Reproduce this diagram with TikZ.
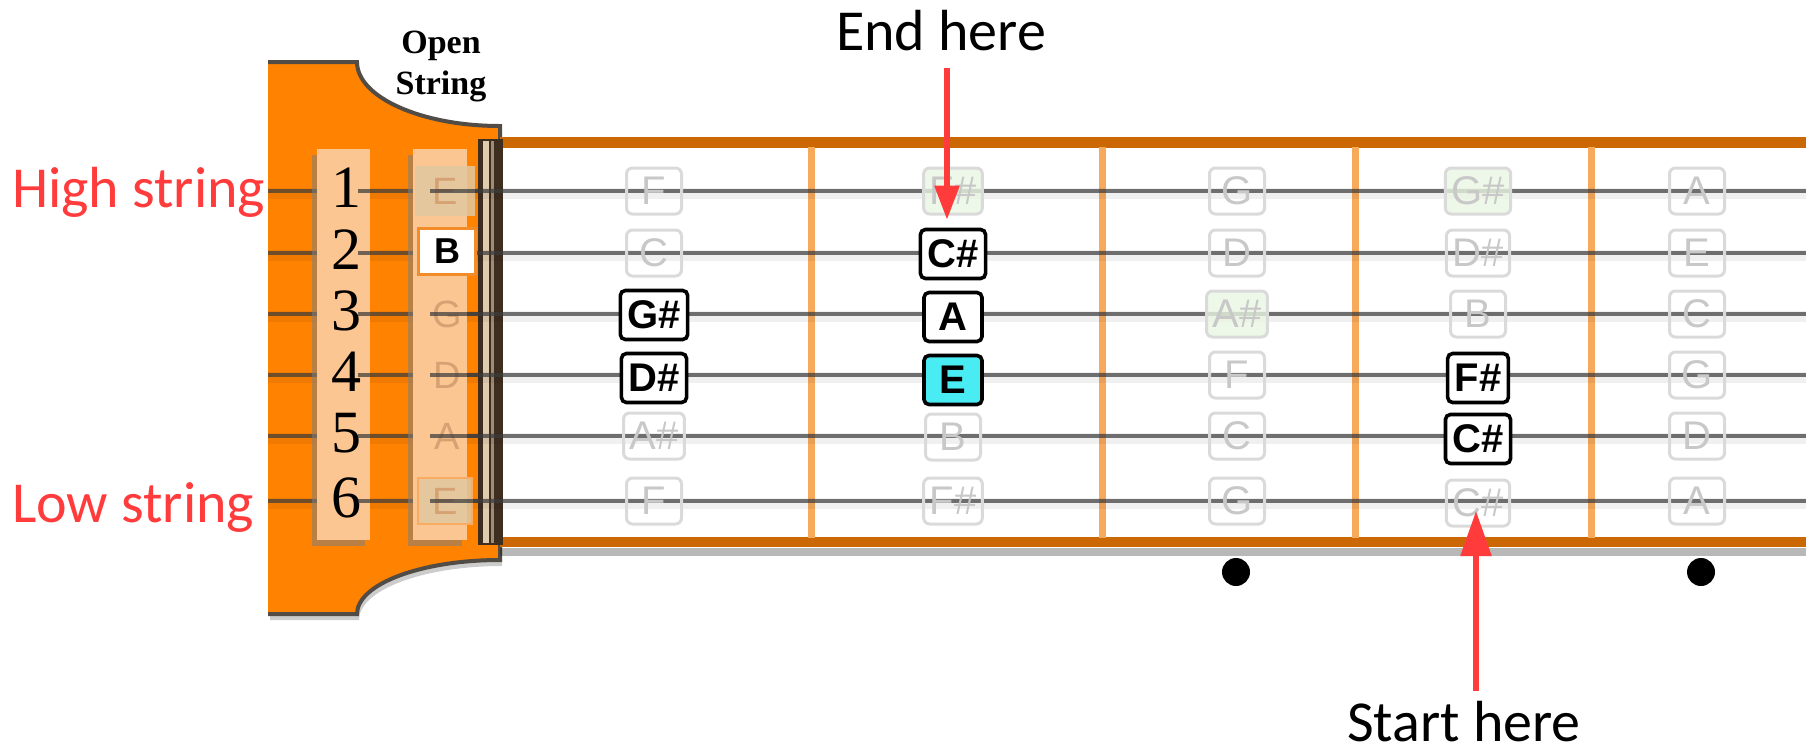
\documentclass[tikz,border=0pt]{standalone}
\usepackage{fontspec}
\usetikzlibrary{shadows,arrows.meta}
\newfontfamily\tagfont{Carlito}
\newfontfamily\notefont{Liberation Sans}
\newfontfamily\numfont{Liberation Serif}

\definecolor{headorange}{RGB}{255,130,0}
\definecolor{barorange}{RGB}{204,104,4}
\definecolor{fretorange}{RGB}{247,170,92}
\definecolor{stripfill}{RGB}{251,198,146}
\definecolor{tagred}{RGB}{255,59,59}
\definecolor{notecyan}{RGB}{72,236,242}
\definecolor{ghostline}{RGB}{218,218,218}
\definecolor{ghosttext}{RGB}{200,200,200}
\definecolor{ghostgreen}{RGB}{234,246,226}
\definecolor{stringgray}{RGB}{60,60,60}
\definecolor{nutdark}{RGB}{62,46,32}
\definecolor{nutlight}{RGB}{226,204,176}
\definecolor{edgegray}{RGB}{82,76,70}
\definecolor{opentan}{RGB}{224,200,160}
\definecolor{openletter}{RGB}{214,162,116}
\definecolor{openedge}{RGB}{242,140,40}

\tikzset{
  stringline/.style={line width=3.6pt, draw=stringgray, draw opacity=0.72},
  stringhalo/.style={line width=11pt, draw=black, draw opacity=0.06},
  fretwire/.style={line width=7pt, draw=fretorange},
  railbar/.style={line width=11pt, draw=barorange},
  strip/.style={fill=stripfill, draw=none,
    drop shadow={shadow xshift=-5pt, shadow yshift=-6pt, opacity=0.55}},
  note/.style={draw=black, line width=3.6pt, rounded corners=5pt, fill=white,
    minimum width=58pt, minimum height=49pt, inner xsep=7pt, inner ysep=0pt,
    font=\notefont\bfseries\fontsize{40}{40}\selectfont},
  ghost/.style={draw=ghostline, line width=3pt, rounded corners=6pt,
    minimum width=55pt, minimum height=46pt, inner xsep=6pt, inner ysep=0pt,
    text=ghosttext, font=\notefont\fontsize{40}{40}\selectfont},
  greenghost/.style={ghost, fill=ghostgreen, fill opacity=0.8, text opacity=1},
  openbox/.style={minimum width=60pt, minimum height=50pt, inner sep=0pt,
    text=openletter, font=\notefont\fontsize{38}{38}\selectfont},
  tag/.style={font=\tagfont\fontsize{58}{58}\selectfont, inner sep=0pt},
  digit/.style={font=\numfont\fontsize{60}{60}\selectfont, inner sep=0pt},
  heading/.style={font=\numfont\bfseries\fontsize{34}{34}\selectfont, inner sep=0pt, anchor=base},
  redarrow/.style={draw=tagred, line width=5.5pt},
  fretdot/.style={circle, fill=black, minimum size=28pt, inner sep=0pt}
}

\begin{document}
\begin{tikzpicture}[x=1pt,y=-1pt]
\useasboundingbox (0,0) rectangle (1806,753);

% headstock
\path[fill=headorange, drop shadow={shadow xshift=2pt, shadow yshift=-6pt, opacity=0.4}]
  (268,62) -- (357,62) .. controls (357,97) and (421,126) .. (500,126)
  -- (500,560) .. controls (421,560) and (357,584) .. (357,614)
  -- (268,614) -- cycle;
\draw[edgegray, line width=4pt]
  (268,62) -- (357,62) .. controls (357,97) and (421,126) .. (500,126)
  -- (500,560) .. controls (421,560) and (357,584) .. (357,614)
  -- (268,614);

% fretboard rails, shadow and frets
\draw[line width=8pt, black, opacity=0.28] (500,552) -- (1806,552);
\draw[railbar] (500,142.5) -- (1806,142.5);
\draw[railbar, line width=10pt] (500,542) -- (1806,542);
\foreach \fx in {811,1102,1355,1591}
  \draw[fretwire] (\fx,147) -- (\fx,538);

% nut
\fill[nutdark] (478,139) rectangle (503,545);
\fill[nutlight] (482.5,141) rectangle (488.5,543);
\fill[nutlight!60!nutdark] (491,141) rectangle (493.5,543);

% strings
\foreach \sy in {191,253,314,375,436,501} {
  \draw[stringhalo] (268,\sy+2) -- (1806,\sy+2);
  \draw[stringline] (268,\sy) -- (1806,\sy);
}

% string number strip and open string strip
\path[strip] (317,149) rectangle (370,540);
\path[strip] (413,149) rectangle (467,540);

\node[digit] (d1) at (346,188) {1};
\node[digit] (d2) at (346,250) {2};
\node[digit] (d3) at (346,311) {3};
\node[digit] (d4) at (346,372) {4};
\node[digit] (d5) at (346,433) {5};
\node[digit] (d6) at (346,498) {6};

% open string notes
\node[openbox, fill=opentan, fill opacity=0.85, text opacity=1] (o1) at (445,191) {E};
\node[openbox] (o3) at (447,314) {G};
\node[openbox] (o4) at (447,375) {D};
\node[openbox] (o5) at (447,436) {A};
\node[openbox, minimum width=54pt, minimum height=46pt, fill=opentan, fill opacity=0.85,
  text opacity=1, draw=openedge!45!stripfill, line width=2.5pt] (o6) at (445,501) {E};

% strings showing across the strips
\foreach \sy in {191,253,314,375,436,501}
  \draw[stringline] (358,\sy) -- (370,\sy);
\foreach \sy in {191,314,375,436,501}
  \draw[stringline] (430,\sy) -- (478,\sy);

\node[draw=openedge, line width=3pt, fill=white, minimum width=57pt, minimum height=46pt,
  inner sep=0pt, font=\notefont\bfseries\fontsize{36}{36}\selectfont] (o2) at (447,251) {B};

% open string heading
\node[heading] (hd1) at (441,53) {Open};
\node[heading] (hd2) at (441,94) {String};

% faint fretboard notes
\node[ghost] (g11) at (654,191) {F};
\node[ghost] (g12) at (654,253) {C};
\node[ghost] (g15) at (654,436) {A\#};
\node[ghost] (g16) at (654,501) {F};
\node[greenghost] (g21) at (953,191) {F\#};
\node[ghost] (g25) at (953,437) {B};
\node[ghost] (g26) at (953,501) {F\#};
\node[ghost] (g31) at (1237,191) {G};
\node[ghost] (g32) at (1237,253) {D};
\node[greenghost] (g33) at (1237,314) {A\#};
\node[ghost] (g34) at (1237,375) {F};
\node[ghost] (g35) at (1237,436) {C};
\node[ghost] (g36) at (1237,501) {G};
\node[greenghost] (g41) at (1478,191) {G\#};
\node[ghost] (g42) at (1478,253) {D\#};
\node[ghost] (g43) at (1478,314) {B};
\node[ghost] (g46) at (1478,503) {C\#};
\node[ghost] (g51) at (1697,191) {A};
\node[ghost] (g52) at (1697,253) {E};
\node[ghost] (g53) at (1697,314) {C};
\node[ghost] (g54) at (1697,375) {G};
\node[ghost] (g55) at (1697,436) {D};
\node[ghost] (g56) at (1697,501) {A};

% scale notes
\node[note] (n13) at (654,315) {G\#};
\node[note] (n14) at (654,378) {D\#};
\node[note] (n22) at (953,254) {C\#};
\node[note] (n23) at (953,317) {A};
\node[note, fill=notecyan] (n24) at (953,380) {E};
\node[note] (n44) at (1478,378) {F\#};
\node[note] (n45) at (1478,439) {C\#};

% position markers
\node[fretdot] (dot3) at (1236,572) {};
\node[fretdot] (dot5) at (1701,572) {};

% labels
\node[tag, text=tagred, anchor=base west] (high) at (12,207) {High string};
\node[tag, text=tagred, anchor=base west] (low) at (12,522) {Low string};
\node[tag, anchor=base] (endtag) at (941,50) {End here};
\node[tag, anchor=base] (starttag) at (1464,741) {Start here};

% arrows
\draw[redarrow, -{Triangle[width=24pt,length=34pt]}, shorten <=17pt, shorten >=8pt]
  ([xshift=-6pt]n22.north |- endtag.south) -- ([xshift=-6pt]n22.north);
\draw[redarrow, -{Triangle[width=30pt,length=45pt]}, shorten <=10pt, shorten >=8pt]
  ([xshift=-2pt]g46.center |- starttag.north) -- ([xshift=-2pt]g46.center);
\end{tikzpicture}
\end{document}
